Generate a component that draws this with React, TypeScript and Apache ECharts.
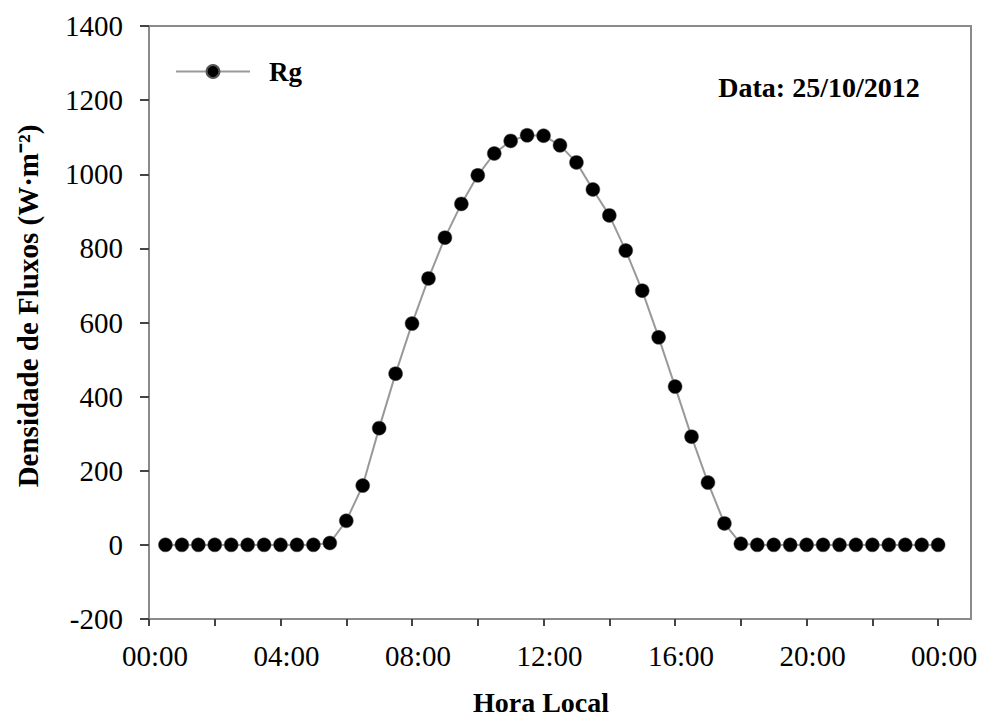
import React, { useEffect, useRef } from "react";
import * as echarts from "echarts";

const hours = [
  0.5, 1, 1.5, 2, 2.5, 3, 3.5, 4, 4.5, 5, 5.5, 6, 6.5, 7, 7.5, 8, 8.5, 9, 9.5, 10, 10.5, 11, 11.5, 12,
  12.5, 13, 13.5, 14, 14.5, 15, 15.5, 16, 16.5, 17, 17.5, 18, 18.5, 19, 19.5, 20, 20.5, 21, 21.5, 22,
  22.5, 23, 23.5, 24,
];
const rg = [
  0, 0, 0, 0, 0, 0, 0, 0, 0, 0, 5, 65, 160, 315, 462, 597, 719, 829, 920, 997, 1056, 1090, 1105, 1104,
  1078, 1032, 959, 889, 794, 686, 560, 427, 292, 168, 58, 3, 0, 0, 0, 0, 0, 0, 0, 0,
  0, 0, 0, 0,
];
const xTicks = [0, 2, 4, 6, 8, 10, 12, 14, 16, 18, 20, 22, 24];
const xLabels = [0, 4, 8, 12, 16, 20, 24];
const seriesName = "Rg";
const yTitle = "Densidade de Fluxos (W·m⁻²)";
const xTitle = "Hora Local";
const dateText = "Data: 25/10/2012";

const SERIF = "'Liberation Serif', 'Times New Roman', serif";

export default function App() {
  const ref = useRef<HTMLDivElement>(null);
  useEffect(() => {
    if (!ref.current) return;
    const chart = echarts.init(ref.current, null, { renderer: "svg" });
    const axisColor = "#8a8a8a";
    chart.setOption({
      animation: false,
      backgroundColor: "#ffffff",
      grid: {
        left: 149,
        right: 13,
        top: 26,
        bottom: 101,
        show: true,
        borderColor: axisColor,
        borderWidth: 2,
      },
      legend: {
        left: 170,
        top: 53,
        itemWidth: 74,
        itemHeight: 16,
        itemGap: 10,
        textStyle: {
          fontFamily: SERIF,
          fontWeight: "bold",
          fontSize: 27,
          color: "#000",
          padding: [0, 0, 0, 14],
        },
        data: [seriesName],
      },
      xAxis: {
        type: "value",
        min: 0,
        max: 25,
        interval: 2,
        axisLine: { show: true, onZero: false, lineStyle: { color: axisColor, width: 2 } },
        axisTick: {
          show: true,
          inside: false,
          length: 7,
          lineStyle: { color: "#444", width: 2 },
          customValues: xTicks,
        },
        axisLabel: {
          customValues: xLabels,
          margin: 22,
          padding: [0, 0, 0, 12],
          fontFamily: SERIF,
          fontSize: 29,
          color: "#000",
          formatter: (v: number) => {
            const h = Math.round(v) % 24;
            return (h < 10 ? "0" + h : "" + h) + ":00";
          },
        },
        splitLine: { show: false },
      },
      yAxis: {
        type: "value",
        position: "left",
        min: -200,
        max: 1400,
        interval: 200,
        axisLine: { show: true, onZero: false, lineStyle: { color: axisColor, width: 2 } },
        axisTick: {
          show: true,
          inside: false,
          length: 9,
          lineStyle: { color: "#444", width: 2 },
        },
        axisLabel: {
          margin: 26,
          fontFamily: SERIF,
          fontSize: 29,
          color: "#000",
          formatter: (v: number) => String(v),
        },
        splitLine: { show: false },
      },
      series: [
        {
          name: seriesName,
          type: "line",
          data: hours.map((h, i) => [h, rg[i]]),
          symbol: "circle",
          symbolSize: 14,
          lineStyle: { color: "#999999", width: 2 },
          itemStyle: { color: "#000000", borderColor: "#555", borderWidth: 0.5 },
        },
      ],
      graphic: [
        {
          type: "text",
          x: 28,
          y: 306,
          rotation: Math.PI / 2,
          style: {
            text: yTitle,
            fontFamily: SERIF,
            fontWeight: "bold",
            fontSize: 29,
            fill: "#000",
            align: "center",
            verticalAlign: "middle",
          },
        },
        {
          type: "text",
          x: 541,
          y: 702,
          style: {
            text: xTitle,
            fontFamily: SERIF,
            fontWeight: "bold",
            fontSize: 28,
            fill: "#000",
            align: "center",
            verticalAlign: "middle",
          },
        },
        {
          type: "text",
          x: 819,
          y: 87,
          style: {
            text: dateText,
            fontFamily: SERIF,
            fontWeight: "bold",
            fontSize: 28,
            fill: "#000",
            align: "center",
            verticalAlign: "middle",
          },
        },
      ],
    });
    return () => chart.dispose();
  }, []);
  return <div ref={ref} style={{ width: 984, height: 720, position: "fixed", left: 0, top: 0 }} />;
}
